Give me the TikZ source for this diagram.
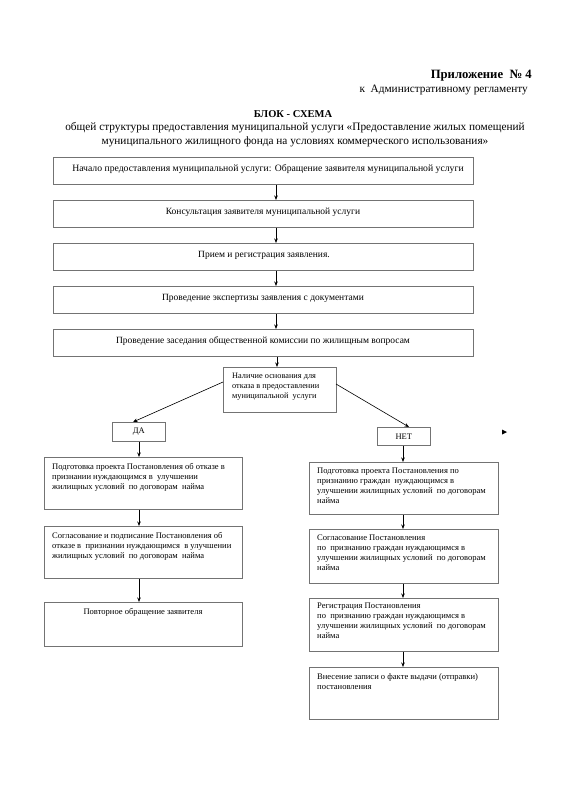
\documentclass[tikz,border=0pt]{standalone}
\usepackage{fontspec}
\setmainfont{Liberation Serif}
\usetikzlibrary{arrows.meta,calc}
\begin{document}
\begin{tikzpicture}[x=1pt,y=-1pt,
  box/.style={draw=black!55, line width=0.6pt, rectangle, inner sep=0pt, anchor=north west},
  arr/.style={-{Stealth[length=4.5pt,width=3.5pt]}, line width=0.6pt, black},
  toptxt/.style={font=\fontsize{9.5}{11}\selectfont, inner sep=0pt, anchor=center},
  btxt/.style={font=\fontsize{8.55}{10}\selectfont, inner sep=0pt, align=left, anchor=north west},
  hdr/.style={inner sep=0pt}
  ]
\useasboundingbox[fill=white] (0,0) rectangle (564,800);

% header
\node[hdr, anchor=east, font=\fontsize{12.7}{14}\bfseries] (h1) at (532,76) {Приложение~ №~4};
\node[hdr, anchor=east, font=\fontsize{11.3}{13}\selectfont] (h2) at (528,90) {к~ Административному регламенту};
\node[hdr, font=\fontsize{10.5}{12}\bfseries] (t1) at (293,114) {БЛОК - СХЕМА};
\node[hdr, font=\fontsize{11.3}{13}\selectfont] (t2) at (295,128) {общей структуры предоставления муниципальной услуги «Предоставление жилых помещений};
\node[hdr, font=\fontsize{11.3}{13}\selectfont] (t3) at (295,142) {муниципального жилищного фонда на условиях коммерческого использования»};

% top boxes
\node[box, minimum width=420pt, minimum height=27pt] (b1) at (53,157) {};
\node[box, minimum width=420pt, minimum height=27pt] (b2) at (53,200) {};
\node[box, minimum width=420pt, minimum height=27pt] (b3) at (53,243) {};
\node[box, minimum width=420pt, minimum height=27pt] (b4) at (53,286) {};
\node[box, minimum width=420pt, minimum height=27pt] (b5) at (53,329) {};
\node[toptxt, font=\fontsize{9.7}{11}\selectfont] (tx1) at (268,169) {Начало предоставления муниципальной услуги: Обращение заявителя муниципальной услуги};
\node[toptxt] (tx2) at (263,212) {Консультация заявителя муниципальной услуги};
\node[toptxt] (tx3) at (264,255) {Прием и регистрация заявления.};
\node[toptxt] (tx4) at (263,298) {Проведение экспертизы заявления с документами};
\node[toptxt] (tx5) at (263,341) {Проведение заседания общественной комиссии по жилищным вопросам};

\draw[arr] (b1.south -| 276,0) -- (b2.north -| 276,0);
\draw[arr] (b2.south -| 276,0) -- (b3.north -| 276,0);
\draw[arr] (b3.south -| 276,0) -- (b4.north -| 276,0);
\draw[arr] (b4.south -| 276,0) -- (b5.north -| 276,0);

% decision
\node[box, minimum width=113pt, minimum height=45pt] (d) at (223,367) {};
\node[btxt, font=\fontsize{8.3}{10}\selectfont] (dt) at (232,373) {Наличие основания для\\отказа в предоставлении\\муниципальной~ услуги};
\draw[arr] (b5.south -| 277,0) -- (d.north -| 277,0);

% yes / no
\node[box, minimum width=53pt, minimum height=19pt] (da) at (112,422) {};
\node[toptxt, font=\fontsize{8.5}{10}\selectfont] (dat) at (da.center) {ДА};
\node[box, minimum width=53pt, minimum height=18pt] (net) at (377,427) {};
\node[toptxt, font=\fontsize{8.5}{10}\selectfont] (nett) at (net.center) {НЕТ};
\coordinate (dl) at (223,382);
\coordinate (dr) at (336,384);
\draw[arr] (dl) -- (da.north -| 133,0);
\draw[arr] (dr) -- (net.north -| 409,0);

% stray arrowhead
\fill (502,429.5) -- (507,432) -- (502,434.5) -- cycle;

% left column
\node[box, minimum width=198pt, minimum height=52pt] (l1) at (44,457) {};
\node[btxt] (l1t) at (52,463) {Подготовка проекта Постановления об отказе в\\признании нуждающимся в~ улучшении\\жилищных условий~ по договорам~ найма};
\node[box, minimum width=198pt, minimum height=52pt] (l2) at (44,526) {};
\node[btxt] (l2t) at (52,532) {Согласование и подписание Постановления об\\отказе в~ признании нуждающимся~ в улучшении\\жилищных условий~ по договорам~ найма};
\node[box, minimum width=198pt, minimum height=44pt] (l3) at (44,602) {};
\node[toptxt, font=\fontsize{8.55}{10}\selectfont] (l3t) at (143,612) {Повторное обращение заявителя};
\draw[arr] (da.south -| 139,0) -- (l1.north -| 139,0);
\draw[arr] (l1.south -| 139,0) -- (l2.north -| 139,0);
\draw[arr] (l2.south -| 139,0) -- (l3.north -| 139,0);

% right column
\node[box, minimum width=189pt, minimum height=52pt] (r1) at (309,462) {};
\node[btxt] (r1t) at (317,468) {Подготовка проекта Постановления по\\признанию граждан~ нуждающимся в\\улучшении жилищных условий~ по договорам\\найма};
\node[box, minimum width=189pt, minimum height=54pt] (r2) at (309,529) {};
\node[btxt] (r2t) at (317,535) {Согласование Постановления\\по~ признанию граждан нуждающимся в\\улучшении жилищных условий~ по договорам\\найма};
\node[box, minimum width=189pt, minimum height=53pt] (r3) at (309,598) {};
\node[btxt] (r3t) at (317,603) {Регистрация Постановления\\по~ признанию граждан нуждающимся в\\улучшении жилищных условий~ по договорам\\найма};
\node[box, minimum width=189pt, minimum height=52pt] (r4) at (309,667) {};
\node[btxt] (r4t) at (317,673) {Внесение записи о факте выдачи (отправки)\\постановления};
\draw[arr] (net.south -| 403,0) -- (r1.north -| 403,0);
\draw[arr] (r1.south -| 403,0) -- (r2.north -| 403,0);
\draw[arr] (r2.south -| 403,0) -- (r3.north -| 403,0);
\draw[arr] (r3.south -| 403,0) -- (r4.north -| 403,0);
\end{tikzpicture}
\end{document}
